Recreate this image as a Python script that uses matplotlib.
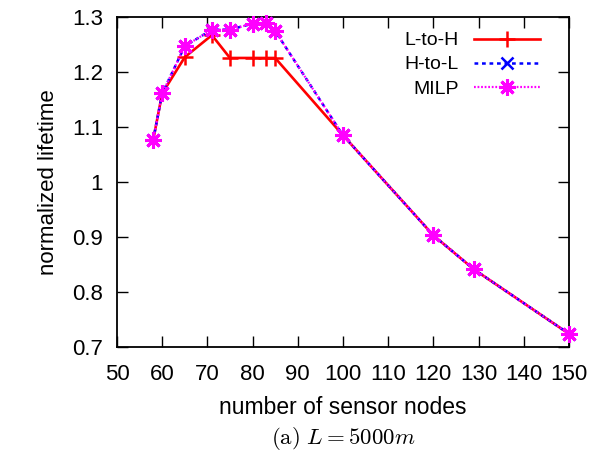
import matplotlib
matplotlib.use("Agg")
import matplotlib.pyplot as plt

# sensor node counts and normalized lifetimes
nodes_lh  = [58, 60, 65, 71, 75, 80, 83, 85, 100, 120, 129, 150]
life_lh   = [1.076, 1.161, 1.227, 1.267, 1.2255, 1.2255, 1.2255, 1.2255, 1.085, 0.903, 0.841, 0.724]
nodes_hl  = [58, 60, 65, 71, 75, 80, 83, 85, 100, 120, 129, 150]
life_hl   = [1.076, 1.161, 1.247, 1.277, 1.277, 1.288, 1.289, 1.2745, 1.085, 0.903, 0.841, 0.724]
nodes_mi  = [58, 60, 65, 71, 75, 80, 83, 85, 100, 120, 129, 150]
life_mi   = [1.076, 1.161, 1.247, 1.277, 1.277, 1.288, 1.289, 1.2745, 1.085, 0.903, 0.841, 0.724]

xticks = list(range(50, 151, 10))
yticks = [0.7, 0.8, 0.9, 1.0, 1.1, 1.2, 1.3]
ytick_labels = ["0.7", "0.8", "0.9", "1", "1.1", "1.2", "1.3"]

plt.rcParams.update({
    "font.family": ["Liberation Sans", "DejaVu Sans"],
    "mathtext.fontset": "cm",
    "font.size": 16,
})

fig = plt.figure(figsize=(5.92, 4.51), dpi=100)
ax = fig.add_axes([0.1976, 0.2306, 0.7635, 0.7317])

ax.plot(nodes_lh, life_lh, color="#ff0000", lw=1.9, ls="-",
        marker="+", ms=11, mew=1.8, label="L-to-H", clip_on=False, zorder=3)
ax.plot(nodes_hl, life_hl, color="#0000ff", lw=1.8, ls=(0, (1.5, 1.5)),
        marker="x", ms=9, mew=1.8, label="H-to-L", clip_on=False, zorder=4)
ax.plot(nodes_mi, life_mi, color="#ff00ff", lw=1.6, ls=(0, (0.8, 0.8)),
        marker=(8, 2, 0), ms=12, mew=2.2, label="MILP", clip_on=False, zorder=5)

ax.set_xlim(50, 150)
ax.set_ylim(0.7, 1.3)
ax.set_xticks(xticks)
ax.set_yticks(yticks)
ax.set_yticklabels(ytick_labels)
ax.tick_params(direction="in", length=8, width=1, top=True, right=True,
               labelsize=16, colors="black")
ax.tick_params(axis="x", pad=12.5)
ax.tick_params(axis="y", pad=10)
for sp in ax.spines.values():
    sp.set_linewidth(1.3)

ax.set_ylabel("normalized lifetime", fontsize=16, labelpad=9)
ax.set_xlabel("number of sensor nodes", fontsize=16.5, labelpad=8)
fig.text(0.5 * (0.1976 + 0.9611), 1 - 438 / 451, r"$\mathrm{(a)}\ L = 5000m$",
         ha="center", va="center", fontsize=16.5)

leg = ax.legend(loc="upper right", bbox_to_anchor=(0.936, 0.955),
                frameon=False, markerfirst=False, fontsize=14,
                handlelength=3.4, handletextpad=0.8, labelspacing=0.33,
                borderpad=0, borderaxespad=0)

fig.savefig("out.png", dpi=100)
